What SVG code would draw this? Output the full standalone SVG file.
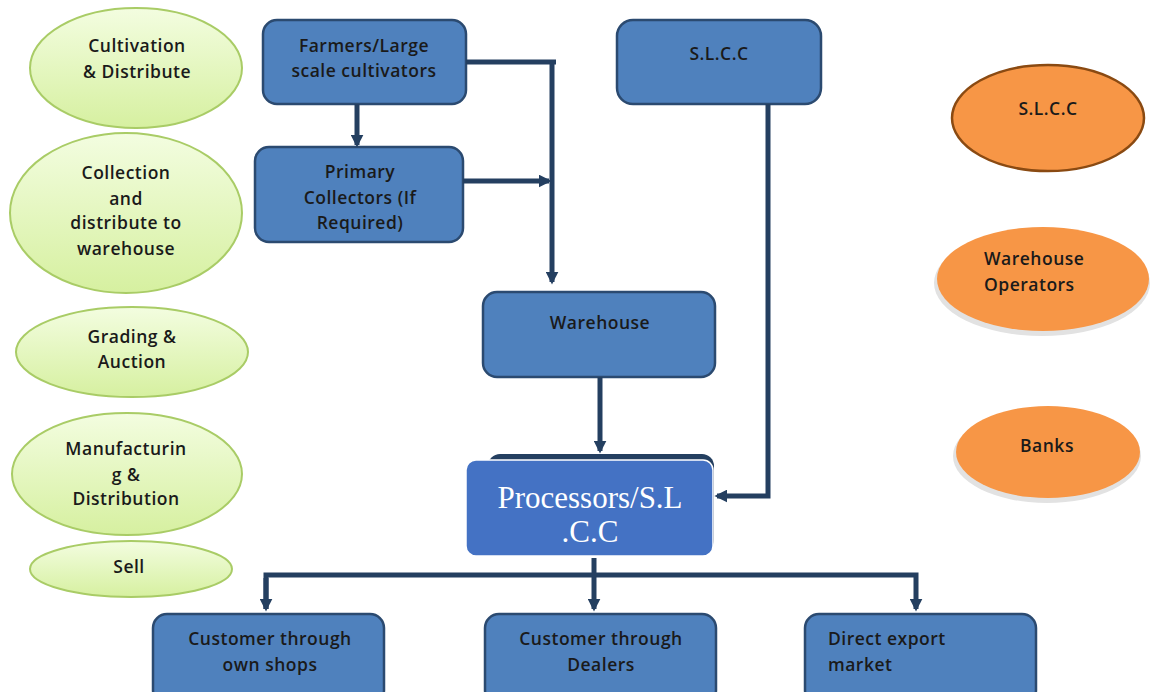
<svg xmlns="http://www.w3.org/2000/svg" width="1150" height="692" viewBox="0 0 1150 692">
  <defs>
    <linearGradient id="greenFill" x1="0" y1="0" x2="0" y2="1">
      <stop offset="0" stop-color="#f3fde0"/>
      <stop offset="1" stop-color="#d6f0a0"/>
    </linearGradient>
    <marker id="arrow" viewBox="0 0 10 10" refX="8" refY="5" markerWidth="2.6" markerHeight="2.6" orient="auto" markerUnits="strokeWidth">
      <path d="M0,0 L10,5 L0,10 Z" fill="#243f60"/>
    </marker>
    <style>
      .stage { fill: url(#greenFill); stroke: #a9cc66; stroke-width: 2; }
      .actor { fill: #f79646; }
      .box { fill: #4f81bd; stroke: #2b4a70; stroke-width: 2.5; }
      .lbl { font-family: "Open Sans", "DejaVu Sans", sans-serif; font-size: 17.5px; font-weight: 600; letter-spacing: 0.5px; fill: #1a1a1a; text-anchor: middle; dominant-baseline: central; }
      .start { text-anchor: start; }
      .wire { fill: none; stroke: #243f60; stroke-width: 5; }
      .proc { font-family: "Liberation Serif", "Times New Roman", serif; font-size: 31px; fill: #ffffff; text-anchor: middle; dominant-baseline: central; }
    </style>
  </defs>

  <!-- stage ellipses, left column -->
  <g id="stage-cultivation">
    <ellipse class="stage" cx="136" cy="68" rx="106" ry="60"/>
    <text class="lbl" x="137" y="45">Cultivation</text>
    <text class="lbl" x="137" y="71">&amp; Distribute</text>
  </g>
  <g id="stage-collection">
    <ellipse class="stage" cx="126" cy="213" rx="116" ry="80"/>
    <text class="lbl" x="126" y="172">Collection</text>
    <text class="lbl" x="126" y="198">and</text>
    <text class="lbl" x="126" y="222">distribute to</text>
    <text class="lbl" x="126" y="248">warehouse</text>
  </g>
  <g id="stage-grading">
    <ellipse class="stage" cx="132" cy="352" rx="116" ry="45"/>
    <text class="lbl" x="132" y="336">Grading &amp;</text>
    <text class="lbl" x="132" y="361">Auction</text>
  </g>
  <g id="stage-manufacturing">
    <ellipse class="stage" cx="127" cy="474" rx="115" ry="61"/>
    <text class="lbl" x="126" y="448">Manufacturin</text>
    <text class="lbl" x="126" y="474">g &amp;</text>
    <text class="lbl" x="126" y="498">Distribution</text>
  </g>
  <g id="stage-sell">
    <ellipse class="stage" cx="131" cy="569" rx="101" ry="28"/>
    <text class="lbl" x="129" y="566">Sell</text>
  </g>

  <!-- supporting parties, right column -->
  <g id="party-slcc">
    <ellipse class="actor" cx="1048" cy="118" rx="96" ry="53" stroke="#8a4a12" stroke-width="2.5"/>
    <text class="lbl" x="1048" y="108">S.L.C.C</text>
  </g>
  <g id="party-warehouse-operators">
    <ellipse cx="1042" cy="283" rx="108" ry="53" fill="#e2e2e2"/>
    <ellipse class="actor" cx="1043" cy="279" rx="106" ry="52"/>
    <text class="lbl start" x="984" y="258">Warehouse</text>
    <text class="lbl start" x="984" y="284">Operators</text>
  </g>
  <g id="party-banks">
    <ellipse cx="1047" cy="456" rx="94" ry="47" fill="#e2e2e2"/>
    <ellipse class="actor" cx="1048" cy="452" rx="92" ry="46"/>
    <text class="lbl" x="1047" y="445">Banks</text>
  </g>

  <!-- flow boxes -->
  <g id="farmers">
    <rect class="box" x="263" y="20" width="203" height="84" rx="14"/>
    <text class="lbl" x="364" y="45">Farmers/Large</text>
    <text class="lbl" x="364" y="70">scale cultivators</text>
  </g>
  <g id="primary-collectors">
    <rect class="box" x="255" y="147" width="208" height="95" rx="14"/>
    <text class="lbl" x="360" y="171">Primary</text>
    <text class="lbl" x="360" y="197">Collectors (If</text>
    <text class="lbl" x="360" y="222">Required)</text>
  </g>
  <g id="slcc">
    <rect class="box" x="617" y="20" width="204" height="84" rx="16"/>
    <text class="lbl" x="719" y="53">S.L.C.C</text>
  </g>
  <g id="warehouse">
    <rect class="box" x="483" y="292" width="232" height="85" rx="14"/>
    <text class="lbl" x="600" y="322">Warehouse</text>
  </g>
  <g id="processors">
    <rect x="488" y="454" width="226" height="98" rx="12" fill="#243f60"/>
    <rect x="466" y="460" width="247" height="96" rx="10" fill="#4472c4" stroke="#ffffff" stroke-width="1.5"/>
    <text class="proc" x="590" y="497">Processors/S.L</text>
    <text class="proc" x="590" y="531">.C.C</text>
  </g>
  <g id="customer-own-shops">
    <rect class="box" x="153" y="614" width="231" height="90" rx="14"/>
    <text class="lbl" x="270" y="638">Customer through</text>
    <text class="lbl" x="270" y="664">own shops</text>
  </g>
  <g id="customer-dealers">
    <rect class="box" x="485" y="614" width="231" height="90" rx="14"/>
    <text class="lbl" x="601" y="638">Customer through</text>
    <text class="lbl" x="601" y="664">Dealers</text>
  </g>
  <g id="direct-export">
    <rect class="box" x="805" y="614" width="231" height="90" rx="14"/>
    <text class="lbl start" x="828" y="638">Direct export</text>
    <text class="lbl start" x="828" y="664">market</text>
  </g>

  <!-- connectors -->
  <g id="connectors">
    <path class="wire" d="M466,62 H556"/>
    <path class="wire" d="M552,62 V282" marker-end="url(#arrow)"/>
    <path class="wire" d="M357,104 V145" marker-end="url(#arrow)"/>
    <path class="wire" d="M463,181 H549" marker-end="url(#arrow)"/>
    <path class="wire" d="M600,377 V451" marker-end="url(#arrow)"/>
    <path class="wire" d="M768,104 V496 H717" marker-end="url(#arrow)"/>
    <path class="wire" d="M594,558 V609" marker-end="url(#arrow)"/>
    <path class="wire" d="M266,609 V575 H916 V609" marker-end="url(#arrow)"/>
    <path class="wire" d="M266,578 V609" marker-end="url(#arrow)"/>
  </g>
</svg>
